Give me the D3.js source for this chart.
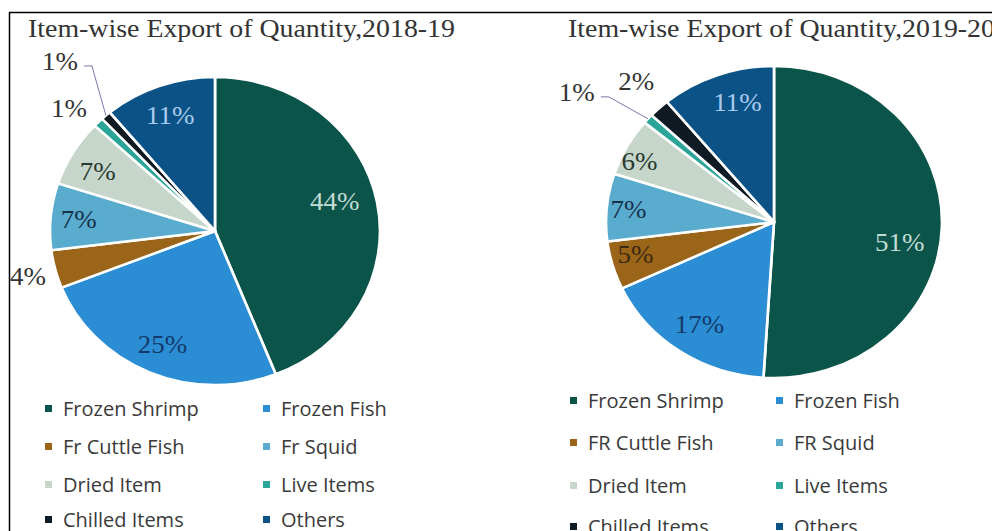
<!DOCTYPE html>
<html>
<head>
<meta charset="utf-8">
<script src="https://cdn.jsdelivr.net/npm/d3@7"></script>
<style>
  body { margin: 0; background: #fff; }
  svg { display: block; }
</style>
</head>
<body>
<div id="chart"></div>
<script>
// Data
const categories = ["Frozen Shrimp", "Frozen Fish", "Fr Cuttle Fish", "Fr Squid",
                    "Dried Item", "Live Items", "Chilled Items", "Others"];
const categories2 = ["Frozen Shrimp", "Frozen Fish", "FR Cuttle Fish", "FR Squid",
                     "Dried Item", "Live Items", "Chilled Items", "Others"];
const values2018 = [44, 25, 4, 7, 7, 1, 1, 11];
const values2019 = [51, 17, 5, 7, 6, 1, 2, 11];
const titles = ["Item-wise Export of Quantity,2018-19", "Item-wise Export of Quantity,2019-20"];

const colors = ["#0b5449", "#2b8dd3", "#9a6419", "#5aaccf", "#c6d6cb", "#2aa597", "#0f1a22", "#0b5386"];

const width = 992, height = 531;

const svg = d3.select("#chart")
  .append("svg")
  .attr("width", width)
  .attr("height", height);

// frame lines (top + left)
svg.append("line").attr("x1", 9).attr("x2", width).attr("y1", 12.5).attr("y2", 12.5)
  .attr("stroke", "#000").attr("stroke-width", 1.5);
svg.append("line").attr("x1", 9.5).attr("x2", 9.5).attr("y1", 12).attr("y2", height)
  .attr("stroke", "#000").attr("stroke-width", 1.5);

// layout for each pie
const panels = [
  {
    values: values2018, names: categories, title: titles[0], titleX: 28,
    cx: 215, cy: 231, rx: 165, ry: 154,
    // [radius factor, angle shift deg, colour]
    labels: [[0.75, -4, "#c2dcd6"], [0.8, 0, "#143a6c"], [1.17, 0, "#333"], [0.83, 0, "#15324a"],
             [0.81, -2, "#28382e"], [1.19, -3, "#333"], [1.45, 1, "#333"], [0.8, 0, "#a9cbee"]],
    leader: 6,
    legendX: [45, 263], legendY: [409, 447, 485, 520]
  },
  {
    values: values2019, names: categories2, title: titles[1], titleX: 568,
    cx: 774, cy: 222, rx: 168, ry: 156,
    labels: [[0.76, 8, "#c2dcd6"], [0.79, 0, "#143a6c"], [0.85, 2, "#3a2a10"], [0.87, 0, "#15324a"],
             [0.89, -3, "#28382e"], [1.44, -6, "#333"], [1.22, 1, "#333"], [0.8, 4, "#a9cbee"]],
    leader: 5,
    legendX: [570, 776], legendY: [401, 443, 486, 527]
  }
];

const pie = d3.pie().sort(null).value(d => d);

panels.forEach(function(p) {
  const arcs = pie(p.values);

  // title
  svg.append("text")
    .attr("x", p.titleX)
    .attr("y", 37)
    .attr("font-family", "Liberation Serif, serif")
    .attr("font-size", "25px")
    .attr("textLength", 427)
    .attr("lengthAdjust", "spacingAndGlyphs")
    .attr("fill", "#333")
    .text(p.title);

  // slices drawn on a circle, stretched to the ellipse of the picture
  const arc = d3.arc().innerRadius(0).outerRadius(p.ry);
  const g = svg.append("g")
    .attr("transform", `translate(${p.cx},${p.cy}) scale(${p.rx / p.ry},1)`);

  g.selectAll("path")
    .data(arcs)
    .enter()
    .append("path")
      .attr("d", arc)
      .attr("fill", (d, i) => colors[i])
      .attr("stroke", "#fff")
      .attr("stroke-width", 2.5)
      .attr("stroke-linejoin", "round");

  // point on the ellipse at angle a (clockwise from top), radius factor f
  const pt = (a, f) => [p.cx + p.rx * f * Math.sin(a), p.cy - p.ry * f * Math.cos(a)];
  const labelPt = (d, i) => pt((d.startAngle + d.endAngle) / 2 + p.labels[i][1] * Math.PI / 180, p.labels[i][0]);

  // leader line for the small slice with a far label
  const li = p.leader;
  const la = (arcs[li].startAngle + arcs[li].endAngle) / 2;
  const lp = labelPt(arcs[li], li);
  const edge = pt(la, 1.0);
  svg.append("path")
    .attr("d", d3.line()([[lp[0] + 24, lp[1] + 5], [lp[0] + 32, lp[1] + 5], edge]))
    .attr("fill", "none")
    .attr("stroke", "#7b78a8")
    .attr("stroke-width", 1);

  // percentage labels (slightly wide, like the stretched picture)
  svg.selectAll(null)
    .data(arcs)
    .enter()
    .append("text")
      .attr("transform", (d, i) => {
        const q = labelPt(d, i);
        return `translate(${q[0]},${q[1]}) scale(1.08,1)`;
      })
      .attr("dy", "0.35em")
      .attr("text-anchor", "middle")
      .attr("font-family", "Liberation Serif, serif")
      .attr("font-size", "25px")
      .attr("fill", (d, i) => p.labels[i][2])
      .text(d => d.value + "%");

  // legend, two columns
  const leg = svg.selectAll(null)
    .data(p.names)
    .enter()
    .append("g")
      .attr("transform", (d, i) => `translate(${p.legendX[i % 2]},${p.legendY[Math.floor(i / 2)]})`);

  leg.append("rect")
    .attr("x", 0).attr("y", -4)
    .attr("width", 7).attr("height", 7)
    .attr("fill", (d, i) => colors[i]);

  leg.append("text")
    .attr("x", 18)
    .attr("dy", "0.35em")
    .attr("font-family", "Open Sans, sans-serif")
    .attr("font-size", "20px")
    .attr("fill", "#3a3a3a")
    .text(d => d);
});
</script>
</body>
</html>
